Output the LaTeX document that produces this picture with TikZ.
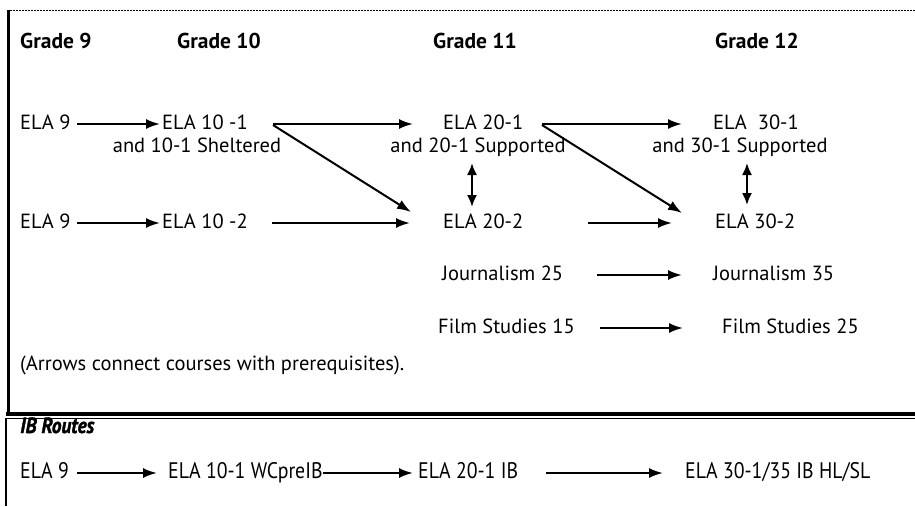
\documentclass[tikz,border=0pt]{standalone}
\usepackage{fontspec}
\setmainfont{PT Sans}
\newfontfamily\condfont[FakeStretch=0.88]{PT Sans}
\newfontfamily\ibtfont[FakeStretch=0.88,FakeBold=1.5]{PT Sans Bold Italic}
\usetikzlibrary{arrows.meta}
\begin{document}
\begin{tikzpicture}[x=1pt,y=-1pt,
  lbl/.style={inner sep=0pt, anchor=west, font=\fontsize{20.5}{24}\selectfont, text height=14pt, text depth=4pt},
  hdr/.style={lbl, font=\fontsize{21.5}{24}\selectfont\bfseries},
  sub/.style={lbl, anchor=center},
  ibl/.style={lbl, font=\fontsize{22.5}{24}\selectfont\condfont},
  ibt/.style={lbl, font=\fontsize{22}{24}\selectfont\ibtfont},
  arr/.style={line width=2pt, -{Latex[length=14pt,width=10pt]}},
  dbl/.style={line width=2pt, {Latex[length=12pt,width=10pt]}-{Latex[length=12pt,width=10pt]}}
]
\useasboundingbox (0,0) rectangle (915,506);
% borders
\draw[line width=1.8pt, dash pattern=on 2pt off 1pt] (7,10.5) -- (915,10.5);
\draw[line width=2.8pt] (8.3,9.6) -- (8.3,414);
\draw[line width=4pt] (6,414) -- (915,414);
\draw[line width=1pt] (6,418.5) -- (915,418.5);
\draw[line width=2pt] (6,418) -- (6,506);

% headers
\node[hdr] (g9)  at (20,43)  {Grade 9};
\node[hdr] (g10) at (177,43) {Grade 10};
\node[hdr] (g11) at (433,43) {Grade 11};
\node[hdr] (g12) at (715,43) {Grade 12};

% row 1
\node[lbl] (a9)   at (20,124)  {ELA 9};
\node[lbl] (a101) at (162,124) {ELA 10 -1};
\node[sub] (a101s) at (197,147) {and 10-1 Sheltered};
\node[lbl] (a201) at (443,124) {ELA 20-1};
\node[sub] (a201s) at (478,147) {and 20-1 Supported};
\node[lbl] (a301) at (713,124) {ELA\ \ 30-1};
\node[sub] (a301s) at (740,147) {and 30-1 Supported};

% row 2
\node[lbl] (b9)   at (20,223)  {ELA 9};
\node[lbl] (b102) at (162,223) {ELA 10 -2};
\node[lbl] (b202) at (443,223) {ELA 20-2};
\node[lbl] (b302) at (715,223) {ELA 30-2};

% electives
\node[lbl] (j25) at (442,275) {Journalism 25};
\node[lbl] (j35) at (713,275) {Journalism 35};
\node[lbl] (f15) at (438,328) {Film Studies 15};
\node[lbl] (f25) at (722,328) {Film Studies 25};

\node[lbl] (note) at (20,365) {(Arrows connect courses with prerequisites).};

% IB
\node[ibt] (ibr) at (20,428) {IB Routes};
\node[ibl] (i9)  at (20,473)  {ELA 9};
\node[ibl] (i10) at (168,473) {ELA 10-1 WCpreIB};
\node[ibl] (i20) at (418,473) {ELA 20-1 IB};
\node[ibl] (i30) at (685,473) {ELA 30-1/35 IB HL/SL};

% arrows
\draw[arr] ([xshift=57pt]a9.west) -- ([xshift=-2pt]a101.west);
\draw[arr] ([xshift=111pt]a101.west) -- ([xshift=-30pt]a201.west);
\draw[arr] ([xshift=111pt,yshift=-1pt]a101.west) -- ([xshift=-32pt,yshift=11pt]b202.west);
\draw[arr] ([xshift=57pt]b9.west) -- ([xshift=-2pt]b102.west);
\draw[arr] ([xshift=110pt]b102.west) -- ([xshift=-33pt]b202.west);
\draw[arr] ([xshift=99pt]a201.west) -- ([xshift=-31pt]a301.west);
\draw[arr] ([xshift=99pt,yshift=-1pt]a201.west) -- ([xshift=-33pt,yshift=10pt]b302.west);
\draw[arr] ([xshift=145pt]b202.west) -- ([xshift=-43pt]b302.west);
\draw[dbl] ([xshift=29pt,yshift=60pt]b202.west) -- ([xshift=29pt,yshift=16pt]b202.west);
\draw[dbl] ([xshift=32pt,yshift=60pt]b302.west) -- ([xshift=32pt,yshift=18pt]b302.west);
\draw[arr] ([xshift=155pt]j25.west) -- ([xshift=-31pt]j35.west);
\draw[arr] ([xshift=162pt]f15.west) -- ([xshift=-39pt]f25.west);
\draw[arr] ([xshift=57pt]i9.west) -- ([xshift=-11pt]i10.west);
\draw[arr] (i10.east) -- ([xshift=-5pt]i20.west);
\draw[arr] ([xshift=128pt]i20.west) -- ([xshift=-22pt]i30.west);
\end{tikzpicture}
\end{document}
